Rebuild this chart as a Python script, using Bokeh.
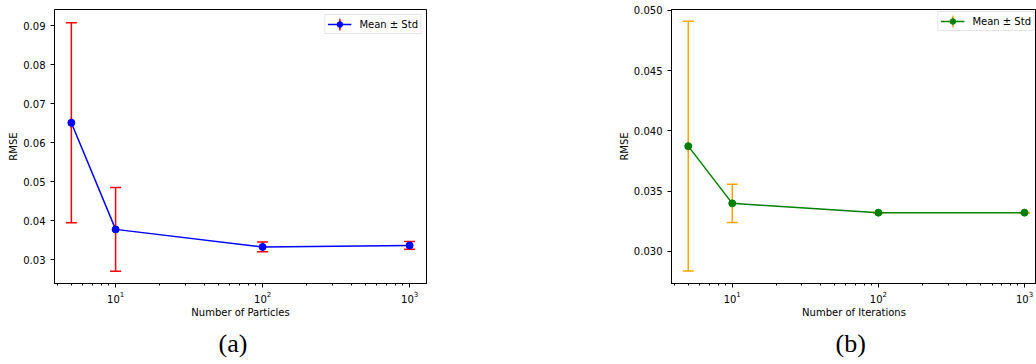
from bokeh.plotting import figure
from bokeh.layouts import row
from bokeh.models import (ColumnDataSource, Whisker, TeeHead, Legend, LegendItem,
                          FixedTicker, NumeralTickFormatter, Title, Range1d)
from bokeh.embed import file_html
from bokeh.resources import INLINE

# ---------------- data ----------------
# Panel (a): RMSE vs number of particles
particles = [5, 10, 100, 1000]
rmse_particles_mean = [0.0651, 0.0378, 0.0333, 0.0337]
rmse_particles_std = [0.0256, 0.0107, 0.00126, 0.00101]

# Panel (b): RMSE vs number of iterations
iterations = [5, 10, 100, 1000]
rmse_iter_mean = [0.03874, 0.03399, 0.03322, 0.03322]
rmse_iter_std = [0.01037, 0.00159, 0.00002, 0.00002]

yticks_a = [0.03, 0.04, 0.05, 0.06, 0.07, 0.08, 0.09]
yticks_b = [0.030, 0.035, 0.040, 0.045, 0.050]

legend_label = "Mean ± Std"
xlabel_a = "Number of Particles"
xlabel_b = "Number of Iterations"
ylabel = "RMSE"
caption_a = "(a)"
caption_b = "(b)"

FONT = "DejaVu Sans"


def panel(x, mean, std, xlabel, caption, line_color, err_color, yticks, yfmt,
          x_range, y_range, width, border_left, border_right, border_top,
          legend_margin, caption_offset):
    p = figure(width=width, height=364, x_axis_type="log",
               x_range=Range1d(*x_range), y_range=Range1d(*y_range),
               output_backend="svg", toolbar_location=None, title=None,
               min_border_left=border_left, min_border_right=border_right,
               min_border_top=border_top, min_border_bottom=364 - 285)
    lower = [m - s for m, s in zip(mean, std)]
    upper = [m + s for m, s in zip(mean, std)]
    src = ColumnDataSource(dict(x=x, mean=mean, lower=lower, upper=upper))

    whisk = Whisker(base="x", upper="upper", lower="lower", source=src, dimension="height",
                    line_color=err_color, line_width=1.5,
                    upper_head=TeeHead(size=11, line_color=err_color, line_width=1.5),
                    lower_head=TeeHead(size=11, line_color=err_color, line_width=1.5))
    p.add_layout(whisk)

    # thin vertical ellipse on the first point: gives the legend its vertical error-bar glyph
    src0 = ColumnDataSource(dict(x=x[:1], mean=mean[:1]))
    ell = p.ellipse(x="x", y="mean", width=0.5, height=11, width_units="screen",
                    height_units="screen", fill_color=None, line_color=err_color,
                    line_width=1.5, source=src0)
    ln = p.line("x", "mean", source=src, line_color=line_color, line_width=1.5)
    pts = p.scatter("x", "mean", source=src, size=7, marker="circle",
                    fill_color=line_color, line_color=line_color)

    legend = Legend(items=[LegendItem(label=legend_label, renderers=[ell, ln, pts])],
                    location="top_right", margin=legend_margin, padding=2, spacing=0,
                    glyph_width=24, glyph_height=14, label_height=14, label_standoff=8,
                    label_text_font=FONT, label_text_font_size="10px", label_text_color="black",
                    border_line_color="#cccccc", border_line_width=1,
                    background_fill_color="white", background_fill_alpha=0.8)
    p.add_layout(legend)

    p.grid.visible = False
    p.outline_line_color = "black"
    p.outline_line_width = 1
    p.outline_line_alpha = 1

    for ax in (p.xaxis[0], p.yaxis[0]):
        ax.axis_line_color = "black"
        ax.major_tick_line_color = "black"
        ax.minor_tick_line_color = "black"
        ax.major_tick_out = 4
        ax.major_tick_in = 0
        ax.minor_tick_out = 2
        ax.minor_tick_in = 0
        ax.major_label_text_font = FONT
        ax.major_label_text_font_size = "10px"
        ax.major_label_text_color = "black"
        ax.axis_label_text_font = FONT
        ax.axis_label_text_font_size = "10px"
        ax.axis_label_text_font_style = "normal"
        ax.axis_label_text_color = "black"

    p.xaxis.axis_label = xlabel
    p.xaxis.major_label_standoff = 3
    p.xaxis.axis_label_standoff = 1

    p.yaxis.axis_label = ylabel
    p.yaxis.ticker = FixedTicker(ticks=yticks)
    p.yaxis.formatter = NumeralTickFormatter(format=yfmt)
    p.yaxis.minor_tick_line_color = None
    p.yaxis.major_label_standoff = 5
    p.yaxis.axis_label_standoff = 1

    cap = Title(text=caption, align="left", offset=caption_offset, standoff=13,
                text_font="Liberation Serif", text_font_size="26px",
                text_font_style="normal", text_color="black")
    p.add_layout(cap, "below")
    return p


pa = panel(particles, rmse_particles_mean, rmse_particles_std, xlabel_a, caption_a,
           "blue", "red", yticks_a, "0.00",
           (3.84, 1303), (0.02394, 0.09411), 600, 54, 600 - 54 - 372, 7, 5, 164)
pb = panel(iterations, rmse_iter_mean, rmse_iter_std, xlabel_b, caption_b,
           "green", "orange", yticks_b, "0.000",
           (3.84, 1208), (0.02734, 0.05008), 436, 71, 0, 9, 2, 164)

layout = row(pa, pb)
open("out.html", "w").write(file_html(layout, INLINE))
